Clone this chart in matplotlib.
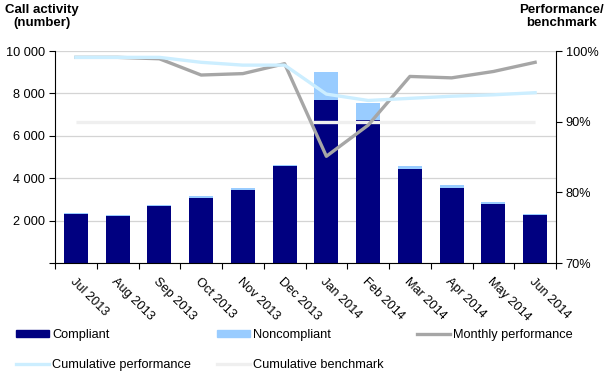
import matplotlib
matplotlib.use("Agg")
import matplotlib.pyplot as plt
from matplotlib.patches import Patch
from matplotlib.lines import Line2D
import numpy as np

plt.rcParams['font.family'] = ['Liberation Sans', 'DejaVu Sans']

months = ["Jul 2013", "Aug 2013", "Sep 2013", "Oct 2013", "Nov 2013", "Dec 2013",
          "Jan 2014", "Feb 2014", "Mar 2014", "Apr 2014", "May 2014", "Jun 2014"]
compliant = [2310, 2220, 2690, 3070, 3440, 4580, 7690, 6750, 4450, 3550, 2780, 2260]
noncompliant = [60, 60, 60, 110, 110, 60, 1310, 810, 130, 130, 100, 70]
monthly_perf = [99.1, 99.1, 98.9, 96.6, 96.8, 98.2, 85.1, 89.5, 96.4, 96.2, 97.1, 98.4]
cumulative_perf = [99.1, 99.1, 99.1, 98.4, 98.0, 98.0, 93.9, 93.0, 93.3, 93.6, 93.8, 94.1]
benchmark = [90] * 12

C_COMP = '#000080'
C_NON = '#99ccff'
C_MON = '#a6a6a6'
C_CUM = '#cceeff'
C_BEN = '#efefef'
FS = 9.2

fig = plt.figure(figsize=(6.09, 3.77), dpi=100)
ax = fig.add_axes([55/609, 1-263/377, (556-55)/609, (263-51)/377])
x = np.arange(len(months))
ax.bar(x, compliant, width=0.58, color=C_COMP, zorder=2)
ax.bar(x, noncompliant, width=0.58, bottom=compliant, color=C_NON, zorder=2)
ax.set_xlim(-0.5, 11.5)
ax.set_ylim(0, 10000)
ax.set_yticks([0, 2000, 4000, 6000, 8000, 10000])
ax.set_yticklabels(['', '2 000', '4 000', '6 000', '8 000', '10 000'], fontsize=FS)
ax.grid(axis='y', color='#d4d4d4', linewidth=0.9, zorder=0)
ax.set_axisbelow(True)
ax.spines['top'].set_visible(False)
ax.spines['right'].set_visible(False)
ax.tick_params(axis='y', length=4, width=0.8, pad=3)
ax.set_xticks(np.arange(-0.5, 12, 1))
ax.set_xticklabels([])
ax.tick_params(axis='x', which='major', length=4, width=0.8)
ax.set_xticks(x, minor=True)
ax.set_xticklabels(months, minor=True, rotation=-45, ha='left', va='top',
                   rotation_mode='anchor', fontsize=FS)
ax.tick_params(axis='x', which='minor', length=0, pad=9)
for s in ['left', 'bottom']:
    ax.spines[s].set_linewidth(0.8)

ax2 = ax.twinx()
ax2.set_ylim(70, 100)
ax2.set_yticks([70, 80, 90, 100])
ax2.set_yticklabels(['70%', '80%', '90%', '100%'], fontsize=FS)
ax2.tick_params(axis='y', length=4, width=0.8, pad=3)
ax2.spines['top'].set_visible(False)
ax2.spines['left'].set_visible(False)
ax2.spines['bottom'].set_visible(False)
ax2.spines['right'].set_linewidth(0.8)
ax2.plot(x, benchmark, color=C_BEN, lw=2.4, zorder=3, solid_capstyle='butt')
ax2.plot(x, monthly_perf, color=C_MON, lw=2.4, zorder=4)
ax2.plot(x, cumulative_perf, color=C_CUM, lw=2.4, zorder=5)

fig.text(5/609, 1-4/377, "Call activity\n(number)", ha='left', va='top',
         fontsize=9.5, fontweight='bold', multialignment='center', linespacing=1.15)
fig.text(604/609, 1-4/377, "Performance/\nbenchmark", ha='right', va='top',
         fontsize=9.5, fontweight='bold', multialignment='center', linespacing=1.15)

handles = [Patch(color=C_COMP), Patch(color=C_NON), Line2D([], [], color=C_MON, lw=2.4),
           Line2D([], [], color=C_CUM, lw=2.4), Line2D([], [], color=C_BEN, lw=2.4)]
labels = ["Compliant", "Noncompliant", "Monthly performance",
          "Cumulative performance", "Cumulative benchmark"]
columns = [[0, 3], [1, 4], [2]]
col_x = [16, 217, 417]
for cols, cx in zip(columns, col_x):
    fig.legend([handles[i] for i in cols], [labels[i] for i in cols], ncol=1,
               loc='upper left', bbox_to_anchor=(cx/609, 1-329/377), frameon=False,
               fontsize=FS, handlelength=2.6, handleheight=0.55, handletextpad=0.25,
               labelspacing=1.4, borderpad=0, borderaxespad=0)

fig.savefig("out.png", dpi=100)
